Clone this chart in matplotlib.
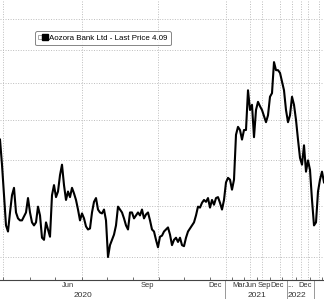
import numpy as np
import matplotlib
matplotlib.use('Agg')
import matplotlib.pyplot as plt
from matplotlib.lines import Line2D
from matplotlib.legend_handler import HandlerTuple
import matplotlib.transforms as mtransforms

# Aozora Bank Ltd - price (one value every ~2px of the original)
prices = [
    4.75, 4.45, 4.11, 3.80, 3.74, 3.93, 4.11, 4.19, 3.93, 3.87,
    3.85, 3.85, 3.89, 3.93, 4.08, 3.93, 3.83, 3.80, 3.83, 3.99,
    3.90, 3.68, 3.66, 3.83, 3.76, 3.69, 4.11, 4.22, 4.09, 4.15,
    4.33, 4.45, 4.22, 4.06, 4.15, 4.09, 4.19, 4.13, 4.06, 3.96,
    3.85, 3.92, 3.87, 3.79, 3.76, 3.77, 3.93, 4.04, 4.08, 3.96,
    3.93, 3.92, 3.96, 3.85, 3.50, 3.61, 3.66, 3.71, 3.80, 3.99,
    3.96, 3.93, 3.87, 3.80, 3.76, 3.93, 3.93, 3.87, 3.90, 3.93,
    3.90, 3.96, 3.87, 3.91, 3.93, 3.85, 3.76, 3.74, 3.66, 3.59,
    3.69, 3.70, 3.74, 3.76, 3.78, 3.71, 3.61, 3.66, 3.68, 3.64,
    3.68, 3.61, 3.60, 3.68, 3.74, 3.77, 3.80, 3.83, 3.90, 3.99,
    3.98, 4.03, 4.06, 4.04, 4.08, 3.98, 4.06, 4.01, 4.08, 4.09,
    4.03, 3.96, 4.06, 4.25, 4.30, 4.28, 4.17, 4.28, 4.81, 4.91,
    4.87, 4.75, 4.87, 4.87, 5.40, 5.13, 5.20, 4.78, 5.13, 5.24,
    5.18, 5.13, 5.05, 4.97, 5.06, 5.31, 5.36, 5.81, 5.69, 5.69,
    5.65, 5.52, 5.40, 5.13, 4.97, 5.06, 5.31, 5.20, 5.00, 4.75,
    4.53, 4.45, 4.68, 4.37, 4.50, 4.39, 4.06, 3.80, 3.83, 4.15,
    4.28, 4.37, 4.25,
]

y_grid = [3.5, 4.0, 4.5, 5.0, 5.5, 6.0, 6.5]
x_grid = [1.5, 41, 79, 113, 125, 131, 140, 146, 150.5, 154, 159.5]
month_labels = ['Jun', 'Sep', 'Dec', 'Mar', 'Jun', 'Sep', 'Dec', '...', 'Dec']
month_pos = [34, 73.5, 107.5, 119.5, 125.5, 132, 138.5, 145, 152.5]
minor_pos = [1.5, 15, 27.5, 41, 53.5, 66.5, 79.5, 92, 105, 116, 122, 128.5,
             135, 141, 148, 155, 161]
years = ['2020', '2021', '2022']
year_pos = [41.5, 128.5, 148.5]
year_sep = [112.5, 143.5, 157]

plt.rcParams['font.family'] = ['Liberation Sans', 'DejaVu Sans']

fig = plt.figure(figsize=(3.24, 2.99), dpi=100)
ax = fig.add_axes([0, 19 / 299, 1, 280 / 299])

x = np.arange(len(prices))
ax.plot(x, prices, color='black', lw=1.5, zorder=3)

ax.set_yscale('log')
ax.set_ylim(3.297, 6.829)
ax.set_xlim(0, 162)

for v in y_grid:
    ax.axhline(v, color='#bdbdbd', lw=0.7, ls=(0, (1, 1.6)), zorder=1)
for v in x_grid:
    ax.axvline(v, color='#bdbdbd', lw=0.7, ls=(0, (1, 1.6)), zorder=1)

ax.set_yticks([])
ax.minorticks_off()
ax.set_xticks(month_pos)
ax.set_xticklabels(month_labels, fontsize=5.4, color='#333333')
ax.tick_params(axis='x', which='major', length=0, pad=1.5)
ax.set_xticks(minor_pos, minor=True)
ax.tick_params(axis='x', which='minor', length=2, direction='in', color='#555555')

for s in ['top', 'right', 'left']:
    ax.spines[s].set_visible(False)
ax.spines['bottom'].set_color('#444444')
ax.spines['bottom'].set_linewidth(0.8)

trans = mtransforms.blended_transform_factory(ax.transData, ax.transAxes)
for lbl, p in zip(years, year_pos):
    ax.text(p, -0.042, lbl, transform=trans, ha='center', va='top',
            fontsize=6, color='#333333')
for p in year_sep:
    ax.plot([p, p], [0, -0.08], transform=trans, color='#888888', lw=0.6,
            clip_on=False)

h1 = Line2D([], [], marker='s', markersize=2.2, markerfacecolor='white',
            markeredgecolor='#888888', markeredgewidth=0.5, ls='None')
h2 = Line2D([], [], marker='s', markersize=4.5, color='black', ls='None')
leg = ax.legend([(h1, h2)], ['Aozora Bank Ltd - Last Price 4.09'],
                handler_map={tuple: HandlerTuple(ndivide=None, pad=0.1)},
                loc='upper left', bbox_to_anchor=(0.108, 0.888),
                fontsize=5.7, frameon=True, fancybox=True, handlelength=1.2,
                handletextpad=0.2, borderpad=0.4, borderaxespad=0)
leg.get_frame().set_edgecolor('#666666')
leg.get_frame().set_linewidth(0.7)
leg.set_zorder(5)

fig.savefig('out.png', dpi=100)
